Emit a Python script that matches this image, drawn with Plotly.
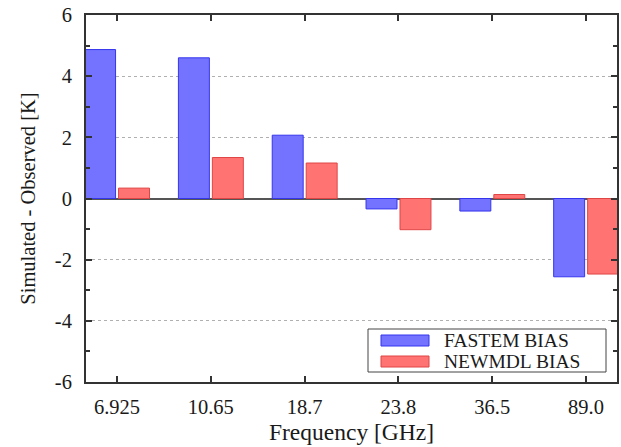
import plotly.graph_objects as go

categories = ["6.925", "10.65", "18.7", "23.8", "36.5", "89.0"]
fastem_bias = [4.87, 4.60, 2.07, -0.34, -0.41, -2.56]
newmdl_bias = [0.34, 1.34, 1.16, -1.02, 0.13, -2.47]
series_names = ["FASTEM BIAS", "NEWMDL BIAS"]
y_ticks = [-6, -4, -2, 0, 2, 4, 6]
y_tick_labels = ["-6", "-4", "-2", "0", "2", "4", "6"]

FONT = "'Liberation Serif', 'DejaVu Serif', serif"
TEXT = "#1a1a1a"
blue_fill, blue_line = "#7373ff", "#3535ee"
red_fill, red_line = "#ff7373", "#e04545"

xpos = list(range(len(categories)))

fig = go.Figure()
fig.add_trace(go.Bar(x=xpos, y=fastem_bias, name=series_names[0], width=0.33, offset=-0.345,
                     marker=dict(color=blue_fill, line=dict(color=blue_line, width=1))))
fig.add_trace(go.Bar(x=xpos, y=newmdl_bias, name=series_names[1], width=0.33, offset=0.017,
                     marker=dict(color=red_fill, line=dict(color=red_line, width=1))))

fig.update_layout(
    width=621, height=447,
    margin=dict(l=86, r=4, t=15, b=65, autoexpand=False),
    paper_bgcolor="white", plot_bgcolor="white",
    barmode="overlay", showlegend=False,
    font=dict(family=FONT, size=20, color=TEXT),
)
fig.update_xaxes(
    range=[-0.33, 5.33], tickvals=xpos, ticktext=categories, automargin=False,
    showline=True, linecolor="#333", linewidth=2, mirror="ticks",
    ticks="inside", ticklen=6, tickwidth=1.5, tickcolor="#333",
    showgrid=False, zeroline=False, ticklabelstandoff=5,
    title=dict(text="Frequency [GHz]", font=dict(family=FONT, size=23.5, color=TEXT), standoff=7),
    tickfont=dict(family=FONT, size=20.5, color=TEXT),
)
fig.update_yaxes(
    range=[-6, 6], tickvals=y_ticks, ticktext=y_tick_labels, automargin=False,
    showline=True, linecolor="#333", linewidth=2, mirror="ticks",
    ticks="inside", ticklen=6, tickwidth=1.5, tickcolor="#333",
    minor=dict(dtick=1, tick0=1, ticks="inside", ticklen=4, tickcolor="#333", showgrid=False),
    showgrid=True, gridcolor="#b0b0b0", griddash="dot", gridwidth=1,
    zeroline=True, zerolinecolor="#555", zerolinewidth=1.5, ticklabelstandoff=8,
    title=dict(text="Simulated - Observed [K]", font=dict(family=FONT, size=20.5, color=TEXT), standoff=14),
    tickfont=dict(family=FONT, size=20.5, color=TEXT),
)

pw, ph = 621 - 86 - 4, 447 - 15 - 65
def px(x): return (x - 86) / pw
def py(y): return 1 - (y - 15) / ph

fig.add_shape(type="rect", xref="paper", yref="paper", x0=px(368), x1=px(606), y0=py(372), y1=py(329),
              line=dict(color="#444", width=1), fillcolor="white", layer="above")
keys = [(series_names[0], blue_fill, blue_line, 335, 346), (series_names[1], red_fill, red_line, 356, 367)]
for name, fc, lc, y0, y1 in keys:
    fig.add_shape(type="rect", xref="paper", yref="paper", x0=px(381), x1=px(429), y0=py(y1), y1=py(y0),
                  line=dict(color=lc, width=1), fillcolor=fc, layer="above")
    fig.add_annotation(xref="paper", yref="paper", x=px(442), y=py((y0 + y1) / 2), text=name,
                       showarrow=False, xanchor="left", yanchor="middle",
                       font=dict(family=FONT, size=19.5, color=TEXT))

fig.write_html("out.html", config={"displayModeBar": False},
               post_script="document.body.style.margin='0';")
